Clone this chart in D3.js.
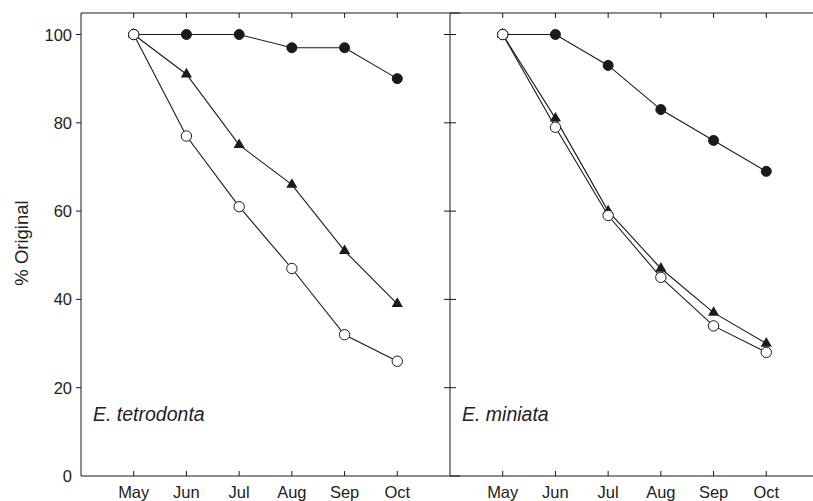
<!DOCTYPE html>
<html>
<head>
<meta charset="UTF-8">
<script src="https://d3js.org/d3.v7.min.js"></script>
<style>
  body { margin: 0; background: #fff; }
  text { font-family: "Liberation Sans", Arial, sans-serif; fill: #222; }
</style>
</head>
<body>
<div id="chart"></div>
<script>
// data
const months = ["May", "Jun", "Jul", "Aug", "Sep", "Oct"];
const yTicks = [0, 20, 40, 60, 80, 100];
const panelNames = ["E. tetrodonta", "E. miniata"];

const tetroFilled = [100, 100, 100, 97, 97, 90];
const tetroTriangle = [100, 91, 75, 66, 51, 39];
const tetroOpen = [100, 77, 61, 47, 32, 26];

const miniFilled = [100, 100, 93, 83, 76, 69];
const miniTriangle = [100, 81, 60, 47, 37, 30];
const miniOpen = [100, 79, 59, 45, 34, 28];

const panels = [
  { name: panelNames[0], series: [
    { values: tetroFilled, type: "filled" },
    { values: tetroTriangle, type: "triangle" },
    { values: tetroOpen, type: "open" } ] },
  { name: panelNames[1], series: [
    { values: miniFilled, type: "filled" },
    { values: miniTriangle, type: "triangle" },
    { values: miniOpen, type: "open" } ] }
];

const W = 813, H = 501;
const plotTop = 13, plotBottom = 476;
const panelLeft = [81, 450];
const panelW = 369;
const ink = "#1a1a1a";

const svg = d3.select("#chart").append("svg")
  .attr("width", W).attr("height", H);

const y = d3.scaleLinear().domain([0, 100]).range([476, 34.5]);

// y axis label
svg.append("text")
  .attr("transform", `translate(28,243) rotate(-90)`)
  .attr("text-anchor", "middle")
  .style("font-size", "18.5px")
  .text("% Original");

// y tick labels
svg.selectAll(".ylab").data(yTicks).enter().append("text")
  .attr("x", 72).attr("y", d => y(d) + 6)
  .attr("text-anchor", "end")
  .style("font-size", "16.5px")
  .text(d => d);

const line = d3.line();

panels.forEach((p, i) => {
  const x0 = panelLeft[i];
  const x = d3.scalePoint().domain(months).range([x0, x0 + panelW]).padding(1);
  const g = svg.append("g");

  // frame: top, bottom, left side
  g.append("line").attr("x1", x0).attr("x2", x0 + panelW + 10)
    .attr("y1", plotTop).attr("y2", plotTop).attr("stroke", ink);
  g.append("line").attr("x1", x0).attr("x2", x0 + panelW + 10)
    .attr("y1", plotBottom).attr("y2", plotBottom).attr("stroke", ink);
  g.append("line").attr("x1", x0).attr("x2", x0)
    .attr("y1", plotTop).attr("y2", plotBottom).attr("stroke", ink);

  // x ticks inward top and bottom
  months.forEach(m => {
    g.append("line").attr("x1", x(m)).attr("x2", x(m))
      .attr("y1", plotBottom).attr("y2", plotBottom - 5).attr("stroke", ink);
    g.append("line").attr("x1", x(m)).attr("x2", x(m))
      .attr("y1", plotTop).attr("y2", plotTop + 5).attr("stroke", ink);
    g.append("text").attr("x", x(m)).attr("y", 498)
      .attr("text-anchor", "middle").style("font-size", "16.5px").text(m);
  });

  // y ticks
  yTicks.filter(t => t > 0).forEach(t => {
    g.append("line")
      .attr("x1", i === 0 ? x0 - 5 : x0 - 6)
      .attr("x2", i === 0 ? x0 : x0 + 6)
      .attr("y1", y(t)).attr("y2", y(t)).attr("stroke", ink);
  });

  // series lines
  p.series.forEach(s => {
    g.append("path")
      .attr("d", line(s.values.map((v, j) => [x(months[j]), y(v)])))
      .attr("fill", "none").attr("stroke", ink).attr("stroke-width", 1.1);
  });

  // markers
  const tri = d3.symbol().type(d3.symbolTriangle).size(54);
  p.series.forEach(s => {
    s.values.forEach((v, j) => {
      const cx = x(months[j]), cy = y(v);
      if (s.type === "triangle") {
        g.append("path").attr("d", tri())
          .attr("transform", `translate(${cx},${cy})`)
          .attr("fill", ink);
      } else {
        g.append("circle").attr("cx", cx).attr("cy", cy)
          .attr("r", s.type === "filled" ? 5 : 5.2)
          .attr("fill", s.type === "filled" ? ink : "#fff")
          .attr("stroke", ink).attr("stroke-width", 1);
      }
    });
  });

  // open circle at May on top
  g.append("circle").attr("cx", x(months[0])).attr("cy", y(p.series[2].values[0]))
    .attr("r", 5.2).attr("fill", "#fff").attr("stroke", ink);

  g.append("text").attr("x", x0 + 12).attr("y", 421)
    .style("font-size", "19.5px").style("font-style", "italic")
    .text(p.name);
});
</script>
</body>
</html>
